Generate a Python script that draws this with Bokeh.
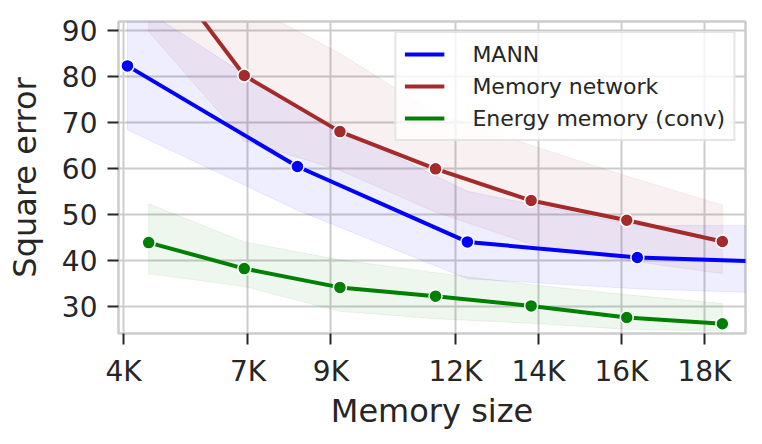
from bokeh.plotting import figure
from bokeh.models import Range1d, FixedTicker
from bokeh.embed import file_html
from bokeh.resources import INLINE

# ---- data (memory size in thousands) ----
mann_x = [4.096, 8.192, 12.288, 16.384, 20.48]
mann_y = [82.3, 60.4, 44.0, 40.6, 39.4]
mann_lo = [68.4, 50.9, 36.0, 33.8, 32.6]
mann_hi = [97.0, 73.0, 55.0, 47.6, 47.5]

mem_x = [4.608, 6.912, 9.216, 11.52, 13.824, 16.128, 18.432]
memnet_y = [107.8, 80.2, 68.0, 59.9, 53.0, 48.7, 44.1]
memnet_lo = [89.8, 66.0, 59.6, 50.5, 43.5, 40.0, 37.1]
memnet_hi = [120.0, 96.0, 85.0, 72.0, 65.0, 58.3, 52.0]

energy_y = [43.85, 38.2, 34.1, 32.2, 30.07, 27.55, 26.2]
energy_lo = [37.1, 34.3, 28.9, 27.3, 26.3, 25.0, 24.6]
energy_hi = [52.3, 44.0, 40.1, 37.3, 34.7, 32.5, 30.6]

x_ticks = [4, 7, 9, 12, 14, 16, 18]
x_tick_labels = ["4K", "7K", "9K", "12K", "14K", "16K", "18K"]
y_ticks = [30, 40, 50, 60, 70, 80, 90]

FONT = "DejaVu Sans"
TXT = "#262626"
GRID = "#cccccc"

p = figure(width=762, height=444, output_backend="svg", toolbar_location=None,
           x_range=Range1d(3.88, 18.99), y_range=Range1d(24.07, 91.96),
           min_border_left=118, min_border_right=17, min_border_top=21, min_border_bottom=111)
p.background_fill_color = "white"
p.border_fill_color = "white"
p.outline_line_color = GRID
p.outline_line_width = 2.5

series = [
    ("MANN", mann_x, mann_y, mann_lo, mann_hi, "#0000ff"),
    ("Memory network", mem_x, memnet_y, memnet_lo, memnet_hi, "#a52a2a"),
    ("Energy memory (conv)", mem_x, energy_y, energy_lo, energy_hi, "#008000"),
]

for name, xs, ys, lo, hi, col in series:
    p.patch(list(xs) + list(xs)[::-1], list(hi) + list(lo)[::-1],
            fill_color=col, fill_alpha=0.065, line_color=col, line_alpha=0.08, line_width=1)

for name, xs, ys, lo, hi, col in series:
    p.line(xs, ys, line_color=col, line_width=4, legend_label=name)
    p.scatter(xs, ys, size=13, fill_color=col, line_color="white", line_width=1.5)

for ax in (p.xaxis[0], p.yaxis[0]):
    ax.axis_line_color = None
    ax.major_tick_line_color = TXT
    ax.major_tick_line_width = 2
    ax.major_tick_out = 11
    ax.major_tick_in = 0
    ax.minor_tick_line_color = None
    ax.major_label_text_font = FONT
    ax.major_label_text_font_size = "28px"
    ax.major_label_text_color = TXT
    ax.axis_label_text_font = FONT
    ax.axis_label_text_font_size = "32px"
    ax.axis_label_text_font_style = "normal"
    ax.axis_label_text_color = TXT
    ax.major_label_standoff = 10

p.xaxis.ticker = FixedTicker(ticks=x_ticks)
p.xaxis.major_label_overrides = {t: l for t, l in zip(x_ticks, x_tick_labels)}
p.yaxis.ticker = FixedTicker(ticks=y_ticks)
p.xaxis.axis_label = "Memory size"
p.yaxis.axis_label = "Square error"
p.xaxis.axis_label_standoff = 1
p.yaxis.axis_label_standoff = 15

p.grid.grid_line_color = GRID
p.grid.grid_line_width = 2

lg = p.legend[0]
lg.location = "top_right"
lg.margin = 10
lg.padding = 8
lg.spacing = 6
lg.label_text_font = FONT
lg.label_text_font_size = "22px"
lg.label_text_color = TXT
lg.glyph_width = 40
lg.glyph_height = 26
lg.label_height = 26
lg.label_standoff = 28
lg.border_line_color = GRID
lg.border_line_width = 2
lg.background_fill_alpha = 0.8

open("out.html", "w").write(file_html(p, INLINE))
